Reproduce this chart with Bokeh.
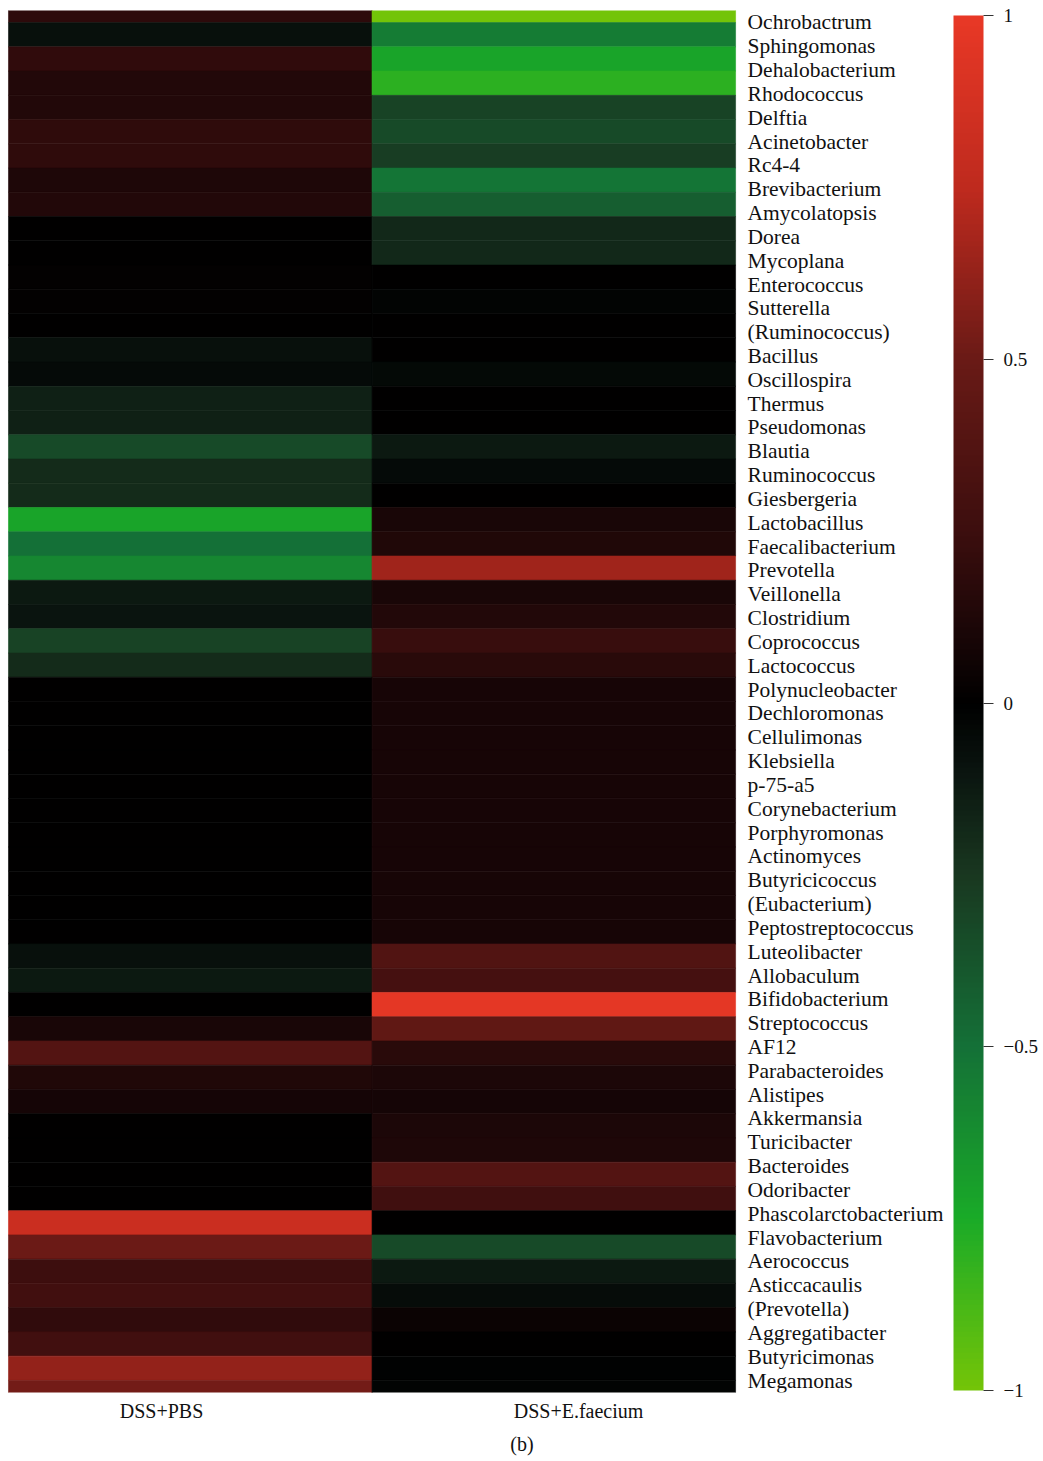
from bokeh.plotting import figure
from bokeh.models import (Range1d, LinearColorMapper, ColorBar, FixedTicker,
                          ColumnDataSource, Title)
from bokeh.transform import transform
from bokeh.core.properties import value
from bokeh.embed import file_html
from bokeh.resources import INLINE

# Genera (rows, top to bottom)
genera = [
    "Ochrobactrum", "Sphingomonas", "Dehalobacterium", "Rhodococcus", "Delftia",
    "Acinetobacter", "Rc4-4", "Brevibacterium", "Amycolatopsis", "Dorea",
    "Mycoplana", "Enterococcus", "Sutterella", "(Ruminococcus)", "Bacillus",
    "Oscillospira", "Thermus", "Pseudomonas", "Blautia", "Ruminococcus",
    "Giesbergeria", "Lactobacillus", "Faecalibacterium", "Prevotella", "Veillonella",
    "Clostridium", "Coprococcus", "Lactococcus", "Polynucleobacter", "Dechloromonas",
    "Cellulimonas", "Klebsiella", "p-75-a5", "Corynebacterium", "Porphyromonas",
    "Actinomyces", "Butyricicoccus", "(Eubacterium)", "Peptostreptococcus", "Luteolibacter",
    "Allobaculum", "Bifidobacterium", "Streptococcus", "AF12", "Parabacteroides",
    "Alistipes", "Akkermansia", "Turicibacter", "Bacteroides", "Odoribacter",
    "Phascolarctobacterium", "Flavobacterium", "Aerococcus", "Asticcacaulis", "(Prevotella)",
    "Aggregatibacter", "Butyricimonas", "Megamonas",
]

groups = ["DSS+PBS", "DSS+E.faecium"]

# Relative abundance scores per group (-1 .. 1)
dss_pbs = [
    0.18, -0.08, 0.20, 0.14, 0.14, 0.19, 0.19, 0.12, 0.14, 0.00,
    0.00, 0.01, 0.01, 0.00, -0.08, -0.05, -0.15, -0.15, -0.33, -0.20,
    -0.20, -0.72, -0.50, -0.60, -0.12, -0.10, -0.30, -0.20, 0.00, 0.00,
    0.00, 0.00, 0.00, 0.00, 0.00, 0.00, 0.00, 0.00, 0.00, -0.08,
    -0.12, 0.00, 0.10, 0.38, 0.13, 0.08, 0.00, 0.00, 0.00, 0.00,
    0.82, 0.50, 0.25, 0.28, 0.20, 0.28, 0.62, 0.53,
]

dss_faecium = [
    -1.00, -0.55, -0.72, -0.80, -0.30, -0.33, -0.28, -0.52, -0.42, -0.18,
    -0.18, 0.00, -0.02, 0.00, 0.00, -0.04, 0.00, 0.00, -0.12, -0.05,
    0.00, 0.10, 0.13, 0.66, 0.10, 0.14, 0.23, 0.17, 0.09, 0.09,
    0.09, 0.09, 0.09, 0.09, 0.09, 0.09, 0.09, 0.09, 0.09, 0.36,
    0.30, 0.97, 0.45, 0.17, 0.11, 0.08, 0.11, 0.12, 0.38, 0.27,
    0.00, -0.33, -0.12, -0.06, 0.04, 0.00, -0.01, -0.02,
]

colorbar_ticks = [-1, -0.5, 0, 0.5, 1]
colorbar_tick_labels = ["\u22121", "\u22120.5", "0", "0.5", "1"]

# Green - black - red diverging palette
stops = [
    (-1.00, (115, 196, 8)),
    (-0.75, (25, 170, 40)),
    (-0.50, (20, 112, 55)),
    (-0.25, (25, 55, 32)),
    (-0.10, (10, 20, 15)),
    (0.00, (0, 0, 0)),
    (0.10, (25, 6, 7)),
    (0.25, (60, 14, 14)),
    (0.50, (105, 26, 22)),
    (0.75, (190, 42, 30)),
    (1.00, (232, 56, 38)),
]


def build_palette(n=256):
    cols = []
    for i in range(n):
        v = -1 + 2 * i / (n - 1)
        for (a, ca), (b, cb) in zip(stops[:-1], stops[1:]):
            if a <= v <= b:
                t = (v - a) / (b - a)
                c = [round(ca[k] + (cb[k] - ca[k]) * t) for k in range(3)]
                cols.append("#%02x%02x%02x" % tuple(c))
                break
    return cols


palette = build_palette()
mapper = LinearColorMapper(palette=palette, low=-1, high=1)

n = len(genera)
xs, ys, vals = [], [], []
for gi, series in enumerate([dss_pbs, dss_faecium]):
    for ri, v in enumerate(series):
        xs.append(gi)
        ys.append(ri)
        vals.append(v)
cells = ColumnDataSource(dict(x=xs, y=ys, v=vals))

FONT = "Liberation Serif"

p = figure(width=1043, height=1461, output_backend="svg", toolbar_location=None,
           x_range=Range1d(-0.522, 2.347), y_range=Range1d(n - 1, 0),
           min_border_left=0, min_border_right=0, min_border_top=10,
           min_border_bottom=69, y_axis_location=None)
p.outline_line_color = None
p.grid.visible = False
p.background_fill_color = "white"

p.rect(x="x", y="y", width=1, height=1, source=cells,
       fill_color=transform("v", mapper), line_color=transform("v", mapper),
       line_width=0.6)

# Genus names on the right of the heatmap
p.extra_y_ranges = {"labels": Range1d(n - 0.5, -0.5)}
labels = ColumnDataSource(dict(y=list(range(n)), name=genera, x=[1.533] * n))
p.text(x="x", y="y", text="name", source=labels, y_range_name="labels",
       text_font=value(FONT), text_font_size="21.5px", text_baseline="middle",
       text_align="left", text_color="#111111")

# Group names along the bottom
ax = p.xaxis[0]
ax.ticker = FixedTicker(ticks=[-0.079, 1.068])
ax.major_label_overrides = {-0.079: groups[0], 1.068: groups[1]}
ax.axis_line_color = None
ax.major_tick_line_color = None
ax.minor_tick_line_color = None
ax.major_tick_in = 0
ax.major_tick_out = 0
ax.major_label_standoff = 7
ax.major_label_text_font = FONT
ax.major_label_text_font_size = "20px"
ax.major_label_text_color = "#111111"

# Panel caption centred under the figure
p.add_layout(Title(text="(b)", align="center", text_font=FONT, text_font_size="20px",
                   text_font_style="normal", text_color="#111111", standoff=13), "below")

cb = ColorBar(color_mapper=mapper, width=30, height=1375, padding=0, margin=0,
              location=(953, 2),
              ticker=FixedTicker(ticks=colorbar_ticks),
              major_label_overrides=dict(zip(colorbar_ticks, colorbar_tick_labels)),
              major_tick_in=0, major_tick_out=10, major_tick_line_color="#333333",
              major_label_text_font=FONT, major_label_text_font_size="19px",
              major_label_text_color="#111111", label_standoff=10,
              bar_line_color=None, border_line_color=None,
              background_fill_color=None)
p.add_layout(cb)

open("out.html", "w").write(file_html(p, INLINE))
